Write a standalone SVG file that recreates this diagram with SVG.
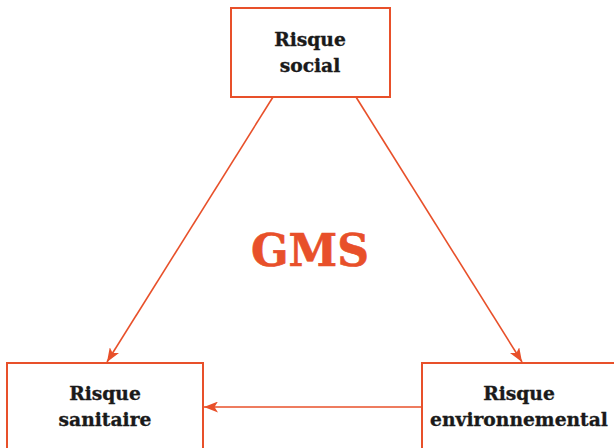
<svg xmlns="http://www.w3.org/2000/svg" width="614" height="448" viewBox="0 0 614 448">
  <style>
    .box { fill: #ffffff; stroke: #E8502A; stroke-width: 2; }
    .lbl { font-family: "DejaVu Serif", "Liberation Serif", serif; font-weight: bold; font-size: 18.7px; fill: #1a1a1a; stroke: #1a1a1a; stroke-width: 0.35; text-anchor: middle; }
    .edge { stroke: #E8502A; stroke-width: 1.6; fill: none; marker-end: url(#arrow); }
    .title { font-family: "DejaVu Serif", "Liberation Serif", serif; font-weight: bold; font-size: 44px; fill: #E8502A; stroke: #E8502A; stroke-width: 0.6; text-anchor: middle; }
  </style>
  <defs>
    <marker id="arrow" viewBox="0 0 14 11" refX="14" refY="5.5" markerWidth="14" markerHeight="11" markerUnits="userSpaceOnUse" orient="auto">
      <path d="M0,0 L14,5.5 L0,11 L3.5,5.5 Z" fill="#E8502A"/>
    </marker>
  </defs>
  <rect width="614" height="448" fill="#ffffff"/>

  <g id="connectors">
    <line class="edge" x1="273" y1="97" x2="107" y2="362"/>
    <line class="edge" x1="356" y1="97" x2="522" y2="362"/>
    <line class="edge" x1="422" y1="407" x2="204" y2="407"/>
  </g>

  <g id="risque-social">
    <rect class="box" x="231" y="8" width="159" height="89"/>
    <text class="lbl" x="310" y="46">Risque</text>
    <text class="lbl" x="310" y="72">social</text>
  </g>

  <g id="risque-sanitaire">
    <rect class="box" x="7" y="363" width="196" height="100"/>
    <text class="lbl" x="105" y="400">Risque</text>
    <text class="lbl" x="105" y="426">sanitaire</text>
  </g>

  <g id="risque-environnemental">
    <rect class="box" x="422" y="363" width="200" height="100"/>
    <text class="lbl" x="519" y="400">Risque</text>
    <text class="lbl" x="519" y="426">environnemental</text>
  </g>

  <g id="gms">
    <text class="title" x="310" y="266">GMS</text>
  </g>
</svg>
